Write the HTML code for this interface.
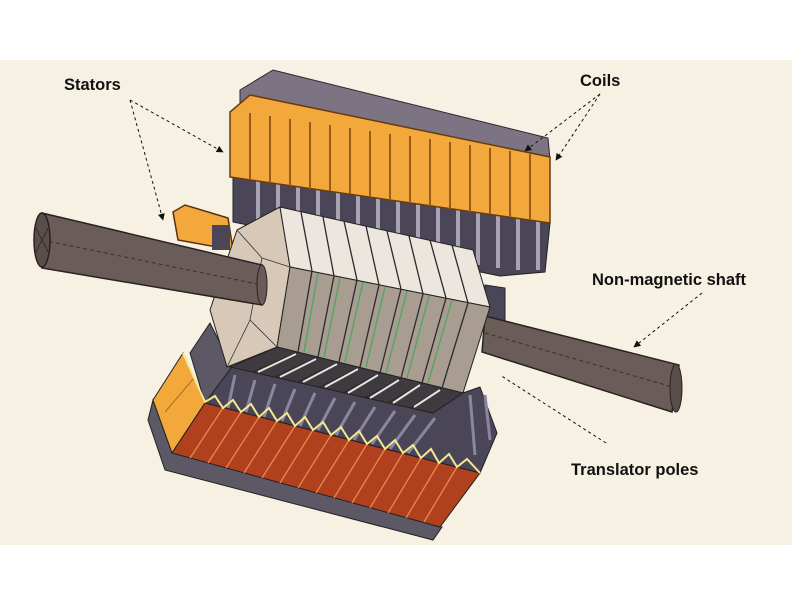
<!DOCTYPE html>
<html><head><meta charset="utf-8"><style>
html,body{margin:0;padding:0;background:#fff}
svg{display:block}
text{font-family:"Liberation Sans",Arial,sans-serif;font-weight:bold;font-size:16.5px;fill:#111}
</style></head><body>
<svg width="792" height="612" viewBox="0 0 792 612" xmlns="http://www.w3.org/2000/svg">
<defs>
<marker id="ah" viewBox="0 0 10 10" refX="9" refY="5" markerWidth="7" markerHeight="7" orient="auto"><path d="M0,0 L10,5 L0,10 z" fill="#111"/></marker>
</defs>
<rect x="0" y="0" width="792" height="612" fill="#ffffff"/>
<rect x="0" y="60" width="792" height="485" fill="#f6f1e3"/>

<polygon points="240,90 273,70 548,138 550,160 240,112" fill="#7c7482" stroke="#2a2630" stroke-width="1"/>
<polygon points="233,177 550,223 545,272 500,276 233,222" fill="#4a4658" stroke="#222" stroke-width="1"/>
<g stroke="#a9a4b4" stroke-width="4">
<line x1="258" y1="180" x2="258" y2="232"/><line x1="278" y1="183" x2="278" y2="235"/>
<line x1="298" y1="186" x2="298" y2="238"/><line x1="318" y1="189" x2="318" y2="241"/>
<line x1="338" y1="191" x2="338" y2="244"/><line x1="358" y1="194" x2="358" y2="247"/>
<line x1="378" y1="197" x2="378" y2="250"/><line x1="398" y1="200" x2="398" y2="253"/>
<line x1="418" y1="203" x2="418" y2="256"/><line x1="438" y1="206" x2="438" y2="259"/>
<line x1="458" y1="209" x2="458" y2="262"/><line x1="478" y1="212" x2="478" y2="265"/>
<line x1="498" y1="214" x2="498" y2="268"/><line x1="518" y1="217" x2="518" y2="270"/>
<line x1="538" y1="220" x2="538" y2="270"/>
</g>
<polygon points="230,112 250,95 550,157 550,223 230,177" fill="#f2a83a" stroke="#6a3a10" stroke-width="1.5"/>
<g stroke="#9a5a18" stroke-width="2">
<line x1="250" y1="113" x2="250" y2="180"/><line x1="270" y1="116" x2="270" y2="183"/>
<line x1="290" y1="119" x2="290" y2="186"/><line x1="310" y1="122" x2="310" y2="189"/>
<line x1="330" y1="125" x2="330" y2="191"/><line x1="350" y1="128" x2="350" y2="194"/>
<line x1="370" y1="131" x2="370" y2="197"/><line x1="390" y1="134" x2="390" y2="200"/>
<line x1="410" y1="136" x2="410" y2="203"/><line x1="430" y1="139" x2="430" y2="206"/>
<line x1="450" y1="142" x2="450" y2="209"/><line x1="470" y1="145" x2="470" y2="212"/>
<line x1="490" y1="148" x2="490" y2="214"/><line x1="510" y1="151" x2="510" y2="217"/>
<line x1="530" y1="154" x2="530" y2="220"/>
</g>
<polygon points="173,212 185,205 228,218 233,250 178,240" fill="#f2a83a" stroke="#5a3010" stroke-width="1.5"/>
<rect x="212" y="225" width="18" height="25" fill="#4a4658"/>
<polygon points="485,285 505,288 505,345 485,345" fill="#4a4658" stroke="#222"/>

<polygon points="485,316 679,365 672,412 482,352" fill="#6a5c58" stroke="#2a2220" stroke-width="1.5"/>
<line x1="485" y1="333" x2="676" y2="388" stroke="#3a302c" stroke-dasharray="4,3"/>
<ellipse cx="676" cy="388" rx="6" ry="24" fill="#5a4e4a" stroke="#2a2220"/>

<polygon points="148,420 165,470 433,540 442,527 172,453 153,400" fill="#5c5866" stroke="#222"/>
<polygon points="190,353 210,323 232,367 205,403" fill="#5c5866" stroke="#222"/>
<polygon points="205,403 232,367 433,413 463,393 480,387 497,433 480,473" fill="#4a4658" stroke="#222"/>
<g stroke="#8a86a0" stroke-width="3">
<line x1="235" y1="375" x2="228" y2="408"/><line x1="255" y1="380" x2="246" y2="412"/>
<line x1="275" y1="384" x2="264" y2="417"/><line x1="295" y1="389" x2="282" y2="421"/>
<line x1="315" y1="393" x2="300" y2="426"/><line x1="335" y1="398" x2="318" y2="430"/>
<line x1="355" y1="402" x2="336" y2="435"/><line x1="375" y1="407" x2="354" y2="440"/>
<line x1="395" y1="411" x2="372" y2="444"/><line x1="415" y1="415" x2="390" y2="449"/>
<line x1="435" y1="418" x2="408" y2="453"/><line x1="470" y1="395" x2="475" y2="455"/>
<line x1="485" y1="395" x2="490" y2="440"/>
</g>
<polygon points="153,400 183,353 205,403 172,453" fill="#f2a83a" stroke="#222"/>
<line x1="165" y1="412" x2="194" y2="378" stroke="#b06a20"/>
<polygon points="205,403 480,473 440,527 172,453" fill="#b0401e" stroke="#222"/>
<g stroke="#e8884a" stroke-width="1.3">
<line x1="223" y1="408" x2="190" y2="458"/><line x1="241" y1="412" x2="208" y2="463"/>
<line x1="259" y1="417" x2="226" y2="468"/><line x1="277" y1="421" x2="244" y2="473"/>
<line x1="295" y1="426" x2="262" y2="478"/><line x1="313" y1="430" x2="280" y2="483"/>
<line x1="331" y1="435" x2="298" y2="488"/><line x1="349" y1="440" x2="316" y2="493"/>
<line x1="367" y1="444" x2="334" y2="498"/><line x1="385" y1="449" x2="352" y2="503"/>
<line x1="403" y1="453" x2="370" y2="508"/><line x1="421" y1="458" x2="388" y2="513"/>
<line x1="439" y1="463" x2="406" y2="518"/><line x1="457" y1="467" x2="424" y2="522"/>
</g>
<polyline points="183,353 205,402 215,396 223,408 233,400 241,412 251,404 259,417 269,408 277,421 287,413 295,426 305,417 313,430 323,422 331,435 341,427 349,440 359,431 367,444 377,436 385,449 395,440 403,453 413,445 421,458 431,449 439,463 449,454 457,467 467,459 480,473" fill="none" stroke="#f5e890" stroke-width="2"/>

<polygon points="280,207 237,230 210,310 227,367 277,347 290,267" fill="#d8c8b8" stroke="#222" stroke-width="1"/>
<polyline points="237,230 262,258 250,320 227,367" fill="none" stroke="#333" stroke-width="0.8"/>
<line x1="262" y1="258" x2="290" y2="267" stroke="#333" stroke-width="0.8"/>
<line x1="250" y1="320" x2="277" y2="347" stroke="#333" stroke-width="0.8"/>
<polygon points="280,207 473,250 490,307 290,267" fill="#ece6df" stroke="#222"/>
<polygon points="290,267 490,307 463,393 277,347" fill="#a99c90" stroke="#222"/>
<polygon points="277,347 463,393 433,413 230,367" fill="#3e3a40" stroke="#222"/>
<g fill="none" stroke="#2a2a2a" stroke-width="1.3">
<polyline points="301,212 312,271 298,352 253,372"/><polyline points="323,217 334,276 318,357 275,377"/>
<polyline points="344,221 357,280 339,362 298,382"/><polyline points="366,226 379,285 360,367 320,387"/>
<polyline points="387,231 401,289 380,373 343,393"/><polyline points="409,236 423,294 401,378 365,398"/>
<polyline points="430,240 446,298 422,383 388,403"/><polyline points="452,245 468,303 442,388 410,408"/>
</g>
<g stroke="#e8e4dc" stroke-width="2">
<line x1="296" y1="354" x2="258" y2="372"/><line x1="316" y1="359" x2="280" y2="377"/>
<line x1="337" y1="364" x2="303" y2="382"/><line x1="358" y1="369" x2="325" y2="387"/>
<line x1="378" y1="375" x2="348" y2="393"/><line x1="399" y1="380" x2="370" y2="398"/>
<line x1="420" y1="385" x2="393" y2="403"/><line x1="440" y1="390" x2="414" y2="407"/>
</g>
<g stroke="#4aa860" stroke-width="1.3">
<line x1="318" y1="273" x2="304" y2="352"/><line x1="340" y1="278" x2="324" y2="357"/>
<line x1="363" y1="282" x2="345" y2="362"/><line x1="385" y1="287" x2="366" y2="367"/>
<line x1="407" y1="291" x2="386" y2="373"/><line x1="429" y1="296" x2="407" y2="378"/>
<line x1="452" y1="300" x2="428" y2="383"/>
</g>

<polygon points="42,213 262,265 262,305 42,268" fill="#6a5c58" stroke="#2a2220" stroke-width="1.5"/>
<line x1="42" y1="240" x2="262" y2="285" stroke="#3a302c" stroke-dasharray="4,3"/>
<ellipse cx="42" cy="240" rx="8" ry="27" fill="#5a4e4a" stroke="#2a2220" stroke-width="1.5"/>
<path d="M36,228 L48,252 M36,252 L48,228" stroke="#2a2220" stroke-width="0.8"/>
<ellipse cx="262" cy="285" rx="5" ry="20" fill="#6a5c58" stroke="#2a2220"/>

<text x="64" y="90">Stators</text>
<text x="580" y="86">Coils</text>
<text x="592" y="285">Non-magnetic shaft</text>
<text x="571" y="475">Translator poles</text>

<g stroke="#111" stroke-width="1" stroke-dasharray="3,3" fill="none">
<line x1="130" y1="100" x2="223" y2="152" marker-end="url(#ah)"/>
<line x1="130" y1="100" x2="163" y2="220" marker-end="url(#ah)"/>
<line x1="600" y1="94" x2="525" y2="151" marker-end="url(#ah)"/>
<line x1="600" y1="94" x2="556" y2="160" marker-end="url(#ah)"/>
<line x1="702" y1="293" x2="634" y2="347" marker-end="url(#ah)"/>
<line x1="606" y1="443" x2="500" y2="375"/>
</g>
</svg>
</body></html>
